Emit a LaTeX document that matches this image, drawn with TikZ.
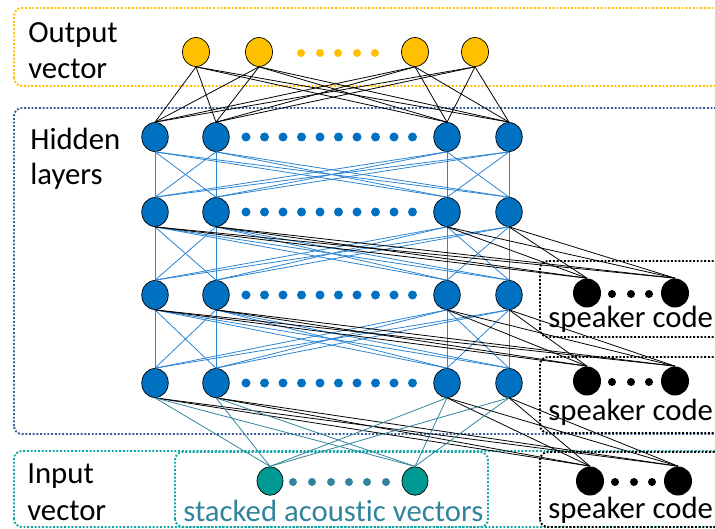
\documentclass[tikz,border=0pt]{standalone}
\usepackage{fontspec}
\setmainfont{Carlito}[Ligatures=NoCommon]
\usetikzlibrary{shapes.geometric}

\definecolor{outyellow}{HTML}{FFC000}
\definecolor{hidblue}{HTML}{0070C0}
\definecolor{hidline}{HTML}{2A84D2}
\definecolor{boxblue}{HTML}{3A5F9C}
\definecolor{inteal}{HTML}{009A94}
\definecolor{tealtext}{HTML}{31849B}
\definecolor{boxteal}{HTML}{12A6A6}

\tikzset{
  outnode/.style={ellipse,draw=black,line width=0.4pt,fill=outyellow,minimum width=0.54cm,minimum height=0.58cm,inner sep=0pt},
  hidnode/.style={ellipse,draw=black,line width=0.4pt,fill=hidblue,minimum width=0.53cm,minimum height=0.58cm,inner sep=0pt},
  spknode/.style={ellipse,fill=black,minimum width=0.56cm,minimum height=0.58cm,inner sep=0pt},
  innode/.style={ellipse,draw=black,line width=0.4pt,fill=inteal,minimum width=0.52cm,minimum height=0.57cm,inner sep=0pt},
  dotbox/.style={line width=1.1pt,dash pattern=on 1.1pt off 1pt,rounded corners=4.5pt},
  lbl/.style={anchor=base west,inner sep=0pt,font=\fontsize{17.5}{20}\selectfont},
  blackline/.style={black,line width=0.45pt},
  blueline/.style={hidline,line width=0.45pt},
  tealline/.style={tealtext,line width=0.45pt},
}

\begin{document}
\begin{tikzpicture}
\useasboundingbox (0,0) rectangle (14.3,10.56);
\clip (0,0) rectangle (14.3,10.56);
%
\draw[dotbox,outyellow] (0.28,8.84) rectangle (15,10.40);
\draw[dotbox,boxblue] (0.28,1.88) rectangle (15,8.40);
\draw[dotbox,boxteal] (0.28,0.02) rectangle (15,1.54);
\draw[dotbox,boxteal] (3.50,0.02) rectangle (9.76,1.52);
\draw[dotbox,black] (10.80,3.82) rectangle (15,5.34);
\draw[dotbox,black] (10.80,1.90) rectangle (15,3.42);
\draw[dotbox,black] (10.80,0.02) rectangle (15,1.52);
%
\node[lbl] (outa) at (0.56,9.70) {Output};
\node[lbl] (outb) at (0.56,8.98) {vector};
\node[lbl] (hida) at (0.60,7.56) {Hidden};
\node[lbl] (hidb) at (0.60,6.88) {layers};
\node[lbl] (ina) at (0.54,0.90) {Input};
\node[lbl] (inb) at (0.54,0.16) {vector};
\node[lbl,text=tealtext] (stk) at (3.66,0.14) {stacked acoustic vectors};
%
\node[outnode] (o1) at (3.92,9.52) {};
\node[outnode] (o2) at (5.18,9.52) {};
\node[outnode] (o3) at (8.30,9.52) {};
\node[outnode] (o4) at (9.50,9.52) {};
\foreach \x in {6.02,6.40,6.76,7.14,7.50}
  \fill[outyellow] (\x,9.50) circle (0.08);
%
\foreach \r/\y in {1/7.82,2/6.32,3/4.66,4/2.90}{
  \node[hidnode] (h\r1) at (3.10,\y) {};
  \node[hidnode] (h\r2) at (4.32,\y) {};
  \node[hidnode] (h\r3) at (8.94,\y) {};
  \node[hidnode] (h\r4) at (10.18,\y) {};
  \foreach \k in {0,...,9}
    \fill[hidblue] (4.92+0.37*\k,\y) circle (0.09);
}
%
\foreach \g/\y/\d in {1/4.70/0,2/2.94/0,3/0.94/0.06}{
  \node[spknode] (s\g1) at (11.74+\d,\y) {};
  \node[spknode] (s\g2) at (13.50+\d,\y) {};
  \foreach \x in {12.24,12.62,12.98}
    \fill[black] (\x+\d,\y-0.02) circle (0.08);
}
\node[lbl] (spa) at (10.96,4.02) {speaker code};
\node[lbl] (spb) at (10.96,2.16) {speaker code};
\node[lbl] (spc) at (10.96,0.20) {speaker code};
%
\node[innode] (i1) at (5.40,0.94) {};
\node[innode] (i2) at (8.30,0.94) {};
\foreach \x in {5.86,6.24,6.62,6.98,7.34,7.72}
  \fill[tealtext] (\x,0.92) circle (0.08);
%
\foreach \a in {1,...,4}
  \foreach \b in {1,...,4}
    \draw[blackline] (o\a.south) -- (h1\b.north);
\foreach \r/\s in {1/2,2/3,3/4}
  \foreach \a in {1,...,4}
    \foreach \b in {1,...,4}
      \draw[blueline] (h\r\a.south) -- (h\s\b.north);
\foreach \r/\g in {2/1,3/2,4/3}
  \foreach \a in {1,...,4}
    \foreach \b in {1,2}
      \draw[blackline] (h\r\a.south) -- (s\g\b.north);
\foreach \a in {1,...,4}
  \foreach \b in {1,2}
    \draw[tealline] (h4\a.south) -- (i\b.north);
\end{tikzpicture}
\end{document}
